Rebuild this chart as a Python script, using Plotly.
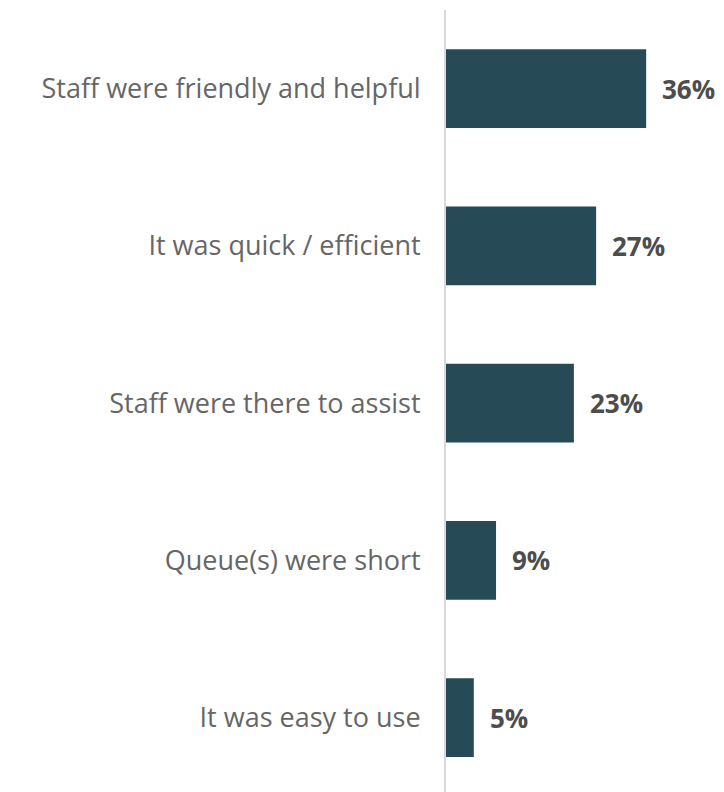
import plotly.graph_objects as go

categories = [
    "Staff were friendly and helpful",
    "It was quick / efficient",
    "Staff were there to assist",
    "Queue(s) were short",
    "It was easy to use",
]
values = [36, 27, 23, 9, 5]
value_labels = [f"{v}%" for v in values]

BAR_COLOR = "#264a56"
LABEL_COLOR = "#666666"
VALUE_COLOR = "#4d4d4d"
FONT = "Open Sans, Noto Sans, sans-serif"

fig = go.Figure(
    go.Bar(
        x=values,
        y=categories,
        orientation="h",
        marker=dict(color=BAR_COLOR, line=dict(width=0)),
        width=0.5,
        hoverinfo="skip",
    )
)

for cat, val, lab in zip(categories, values, value_labels):
    fig.add_annotation(
        x=val, y=cat, text=f"<b>{lab}</b>", showarrow=False,
        xanchor="left", yanchor="middle", xshift=14,
        font=dict(family=FONT, size=26, color=VALUE_COLOR),
    )

fig.update_layout(
    width=724, height=792,
    margin=dict(l=446, r=0, t=10, b=0),
    paper_bgcolor="white", plot_bgcolor="white",
    showlegend=False,
    font=dict(family=FONT, color=LABEL_COLOR),
    xaxis=dict(
        range=[0, 50], showgrid=False, zeroline=False,
        showticklabels=False, ticks="",
    ),
    yaxis=dict(
        range=[4.473, -0.5], showgrid=False, zeroline=False,
        showline=True, linecolor="#d9d9d9", linewidth=2,
        ticks="outside", ticklen=18, tickcolor="rgba(0,0,0,0)",
        tickfont=dict(family=FONT, size=27, color=LABEL_COLOR),
    ),
)

fig.write_html("out.html")
